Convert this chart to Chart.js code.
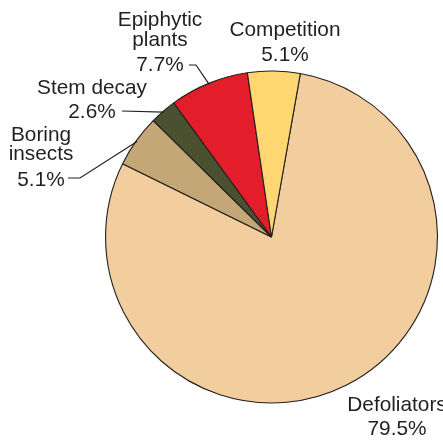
<!DOCTYPE html>
<html>
<head>
<meta charset="utf-8">
<script src="https://cdn.jsdelivr.net/npm/chart.js@4"></script>
<style>
  html, body { margin: 0; padding: 0; background: #ffffff; }
  #wrap { width: 443px; height: 441px; }
</style>
</head>
<body>
<div id="wrap"><canvas id="pie" width="443" height="441"></canvas></div>
<script>
// Causes of damage, share of all cases (%), listed clockwise from the top
const categories = ['Defoliators', 'Boring\ninsects', 'Stem decay', 'Epiphytic\nplants', 'Competition'];
const shares = [79.5, 5.1, 2.6, 7.7, 5.1];
const sliceColors = ['#F2CD9E', '#C3A777', '#4B5030', '#E31E2A', '#FED672'];

const TEXT = '#231F20';
const FONT = '20.8px "Liberation Sans", Arial, Helvetica, sans-serif';

// Where each label sits: centre x, baselines for each text line,
// and the leader line drawn from the text to the rim of its slice.
const labelLayout = [
  { x: 397, baselines: [410.5, 435] },
  { x: 41,  baselines: [141, 160, 186], leader: [[68, 178], [80, 178]] },
  { x: 92,  baselines: [93.5, 118], leader: [[122, 111]] },
  { x: 160, baselines: [26, 45.5, 71], leader: [[189, 65], [196, 65]] },
  { x: 285, baselines: [36, 60.5] }
];

const calloutPlugin = {
  id: 'callouts',
  afterDatasetsDraw(chart) {
    const ctx = chart.ctx;
    const meta = chart.getDatasetMeta(0);
    ctx.save();
    ctx.font = FONT;
    ctx.fillStyle = TEXT;
    ctx.textAlign = 'center';
    ctx.textBaseline = 'alphabetic';
    meta.data.forEach((arc, i) => {
      const lay = labelLayout[i];
      const lines = categories[i].split('\n').concat([shares[i].toFixed(1) + '%']);
      lines.forEach((t, k) => ctx.fillText(t, lay.x, lay.baselines[k]));
      if (lay.leader) {
        const p = arc.getProps(['x', 'y', 'startAngle', 'endAngle', 'outerRadius'], true);
        const mid = (p.startAngle + p.endAngle) / 2;
        const r = p.outerRadius - 1;
        const end = [p.x + Math.cos(mid) * r, p.y + Math.sin(mid) * r];
        ctx.beginPath();
        ctx.strokeStyle = TEXT;
        ctx.lineWidth = 1.2;
        ctx.moveTo(lay.leader[0][0], lay.leader[0][1]);
        for (let j = 1; j < lay.leader.length; j++) ctx.lineTo(lay.leader[j][0], lay.leader[j][1]);
        ctx.lineTo(end[0], end[1]);
        ctx.stroke();
      }
    });
    ctx.restore();
  }
};

new Chart(document.getElementById('pie'), {
  type: 'pie',
  data: {
    labels: categories,
    datasets: [{
      data: shares,
      backgroundColor: sliceColors,
      borderColor: TEXT,
      borderWidth: 1.1
    }]
  },
  options: {
    responsive: false,
    animation: false,
    rotation: 10,
    layout: { padding: { left: 105, right: 5, top: 70, bottom: 37 } },
    plugins: {
      legend: { display: false },
      tooltip: { enabled: false }
    }
  },
  plugins: [calloutPlugin]
});
</script>
</body>
</html>
